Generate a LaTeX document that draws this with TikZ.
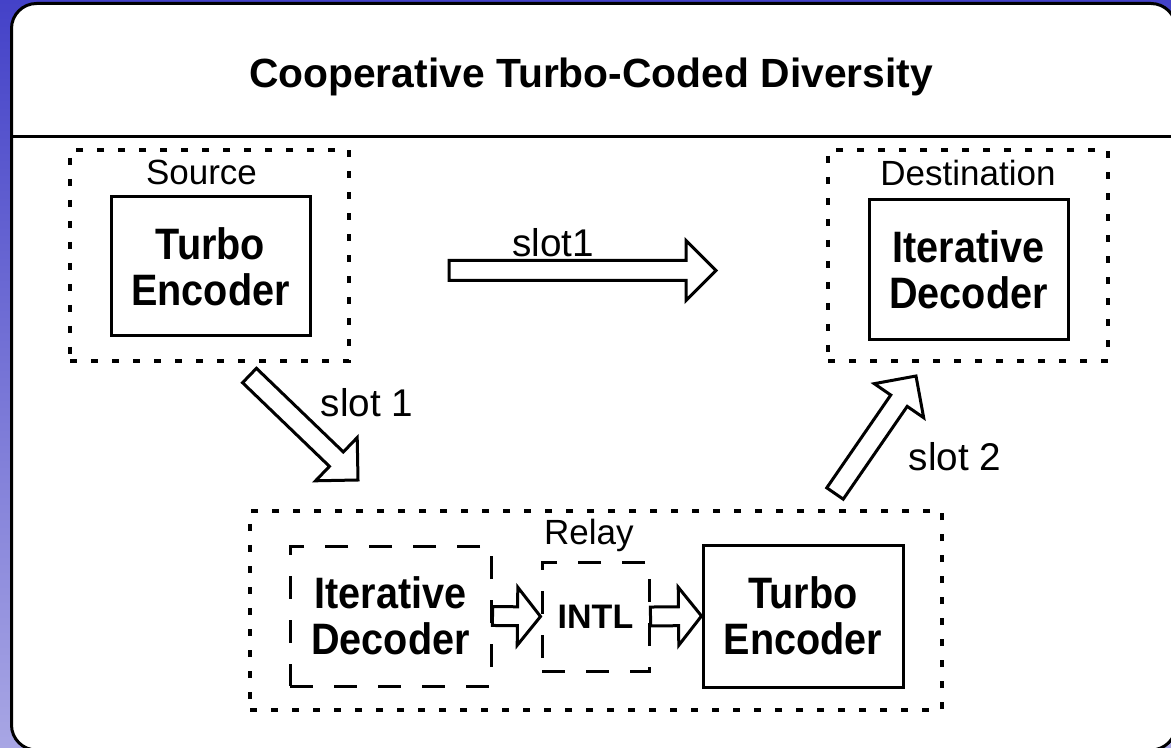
\documentclass[tikz,border=0pt]{standalone}
\usepackage{fontspec}
\setmainfont{Liberation Sans}
\newfontfamily\tallfont[FakeStretch=0.9]{Liberation Sans}
\usetikzlibrary{calc,positioning}
\definecolor{bgtop}{RGB}{68,66,200}
\definecolor{bgbot}{RGB}{168,166,228}
\tikzset{
  blk/.style ={draw, line width=2.25pt, align=center, inner sep=0pt, fill=white,
               font=\tallfont\fontsize{33}{34.5}\selectfont\bfseries},
  dblk/.style={blk, dash pattern=on 17pt off 16pt},
  grp/.style ={draw, line width=2.6pt, dash pattern=on 5.25pt off 10.5pt},
  lbl/.style ={inner sep=0pt, font=\fontsize{26.25}{30}\selectfont},
  slot/.style={inner sep=0pt, font=\fontsize{29}{33}\selectfont},
  fat/.style n args={3}{to path={
    let \p1=(\tikztostart), \p2=(\tikztotarget), \p3=($(\p2)!#3!(\p1)$) in
    ($(\p1)!#1!90:(\p2)$) -- ($(\p3)!#1!90:(\p2)$) -- ($(\p3)!#2!90:(\p2)$) -- (\p2)
    -- ($(\p3)!#2!-90:(\p2)$) -- ($(\p3)!#1!-90:(\p2)$) -- ($(\p1)!#1!-90:(\p2)$) -- cycle}},
  bigarr/.style={draw, fill=white, line width=2.25pt, fat={7.5pt}{22.5pt}{22.5pt}},
  smlarr/.style={draw, fill=white, line width=2.25pt, fat={7.1pt}{21.75pt}{17.25pt}}
}
\begin{document}
\begin{tikzpicture}[x=0.75pt, y=-0.75pt]
\useasboundingbox (0,0) rectangle (1171,748);
\clip (0,0) rectangle (1171,748);
\shade[top color=bgtop, bottom color=bgbot] (0,0) rectangle (1171,748);

% panel and title
\draw[line width=2.25pt, fill=white, rounded corners=18.75pt] (11.5,3.5) rectangle (1176,750);
\coordinate (tl) at (11.5,137);
\coordinate (tr) at (1176,137);
\draw[line width=2.25pt] (tl) -- (tr);
\node[inner sep=0pt, font=\fontsize{30.6}{36}\selectfont\bfseries] (title) at (591,77)
  {Cooperative Turbo-Coded Diversity};

% source
\node[grp, minimum width=209.25pt, minimum height=158.25pt] (src) at (209.5,255.5) {};
\node[blk, minimum width=149.25pt, minimum height=104.25pt] (srcEnc) at (210.5,266.5) {Turbo\\Encoder};
\node[lbl, below=9pt of src.north, xshift=-6pt] (srcLbl) {Source};

% destination
\node[grp, minimum width=210pt, minimum height=158.25pt] (dst) at (968,255.5) {};
\node[blk, minimum width=149.25pt, minimum height=105pt] (dstDec) at (968.5,270) {Iterative\\Decoder};
\node[lbl, below=9pt of dst.north] (dstLbl) {Destination};

% relay
\node[grp, minimum width=519pt, minimum height=149.25pt] (rly) at (596,610.5) {};
\node[dblk, minimum width=150.75pt, minimum height=105pt] (rlyDec) at (390.5,616) {Iterative\\Decoder};
\node[dblk, minimum width=80.25pt, minimum height=81.75pt,
      font=\fontsize{25.5}{30}\selectfont\bfseries] (intl) at (595.5,616.5) {INTL};
\node[blk, minimum width=150pt, minimum height=106.5pt] (rlyEnc) at (803,616) {Turbo\\Encoder};
\node[lbl, above=6pt of intl.north, xshift=-5pt] (rlyLbl) {Relay};

% slots
\coordinate (s1a) at (449,270.5);
\coordinate (s1b) at (716,270.5);
\coordinate (s1c) at (249.5,375.5);
\coordinate (s1d) at (358,480);
\coordinate (s2a) at (835,493.5);
\coordinate (s2b) at (916,376);
\draw[bigarr] (s1a) to (s1b);
\draw[bigarr] (s1c) to (s1d);
\draw[bigarr] (s2a) to (s2b);
\draw[smlarr] (rlyDec.east) to (intl.west);
\draw[smlarr] (intl.east) to (rlyEnc.west);
\node[slot] (slotA) at (553,243) {slot1};
\node[slot] (slotB) at (367,403) {slot 1};
\node[slot] (slotC) at (955,457) {slot 2};
\end{tikzpicture}
\end{document}
